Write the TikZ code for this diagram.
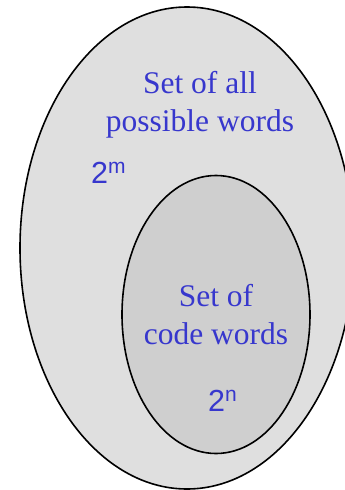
\documentclass[tikz,border=0pt]{standalone}
\usepackage{fontspec}
\setmainfont{Liberation Serif}
\newfontfamily\labelsans{Liberation Sans}
\definecolor{txtblue}{RGB}{55,55,205}
\definecolor{outerfill}{RGB}{223,223,223}
\definecolor{innerfill}{RGB}{207,207,207}
\begin{document}
\begin{tikzpicture}[x=1pt,y=-1pt,
  setline/.style={draw=black,line width=1.6pt},
  settext/.style={text=txtblue,align=center,inner sep=0pt,anchor=base,font=\fontsize{31.5}{38}\selectfont},
  powtext/.style={text=txtblue,inner sep=0pt,anchor=base west,font=\labelsans\fontsize{30.5}{34}\selectfont}]
\useasboundingbox (0,0) rectangle (345,490);
\clip (0,0) rectangle (345,490);
\path[setline,fill=outerfill] (187,248) ellipse [x radius=167,y radius=241];
\path[setline,fill=innerfill] (216,314.5) ellipse [x radius=94,y radius=139];
\node[settext] (allwords) at (200,131) {Set of all\\possible words};
\node[settext] (codewords) at (216,344) {Set of\\code words};
\node[powtext] (pm) at (91,183) {2\raisebox{10pt}{\fontsize{21}{21}\selectfont m}};
\node[powtext] (pn) at (208,411) {2\raisebox{10pt}{\fontsize{21}{21}\selectfont n}};
\end{tikzpicture}
\end{document}
